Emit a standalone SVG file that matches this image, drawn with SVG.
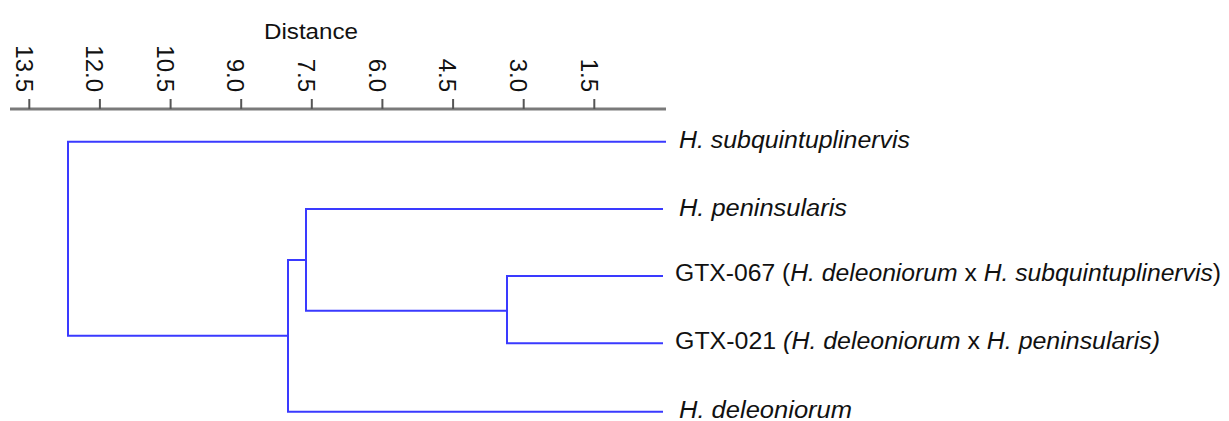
<svg xmlns="http://www.w3.org/2000/svg" width="1229" height="421" viewBox="0 0 1229 421">
  <style>
    .axis { stroke: #7a7a7a; stroke-width: 3; fill: none; }
    .tick { stroke: #555555; stroke-width: 2; }
    .tick-label { font-family: "Liberation Sans", Arial, sans-serif; font-size: 24px; fill: #111111; text-anchor: end; }
    .title { font-family: "Liberation Sans", Arial, sans-serif; font-size: 22px; fill: #111111; }
    .branch { stroke: #3a3aff; stroke-width: 2; fill: none; stroke-linecap: square; }
    .leaf { font-family: "Liberation Sans", Arial, sans-serif; font-size: 23px; fill: #111111; }
    .it { font-style: italic; }
  </style>
  <rect width="1229" height="421" fill="#ffffff"/>

  <!-- distance scale -->
  <g id="scale">
    <text class="title" x="264" y="38.5" textLength="94" lengthAdjust="spacingAndGlyphs">Distance</text>
    <line class="axis" x1="10" y1="109" x2="666" y2="109"/>
    <g class="tick">
      <line x1="29.3" y1="99" x2="29.3" y2="109"/>
      <line x1="99.9" y1="99" x2="99.9" y2="109"/>
      <line x1="170.6" y1="99" x2="170.6" y2="109"/>
      <line x1="241.2" y1="99" x2="241.2" y2="109"/>
      <line x1="311.8" y1="99" x2="311.8" y2="109"/>
      <line x1="382.4" y1="99" x2="382.4" y2="109"/>
      <line x1="453.1" y1="99" x2="453.1" y2="109"/>
      <line x1="523.7" y1="99" x2="523.7" y2="109"/>
      <line x1="594.3" y1="99" x2="594.3" y2="109"/>
    </g>
    <text class="tick-label" transform="translate(15.5,92) rotate(90)">13.5</text>
    <text class="tick-label" transform="translate(86.1,92) rotate(90)">12.0</text>
    <text class="tick-label" transform="translate(156.8,92) rotate(90)">10.5</text>
    <text class="tick-label" transform="translate(227.4,92) rotate(90)">9.0</text>
    <text class="tick-label" transform="translate(298,92) rotate(90)">7.5</text>
    <text class="tick-label" transform="translate(368.6,92) rotate(90)">6.0</text>
    <text class="tick-label" transform="translate(439.3,92) rotate(90)">4.5</text>
    <text class="tick-label" transform="translate(509.9,92) rotate(90)">3.0</text>
    <text class="tick-label" transform="translate(580.5,92) rotate(90)">1.5</text>
  </g>

  <!-- dendrogram branches -->
  <g id="connectors">
    <path class="branch" d="M665,141.7 H68 V335.7 H288"/>
    <path class="branch" d="M306,260 H288 V411.7 H662"/>
    <path class="branch" d="M662,209 H306 V310.7 H507"/>
    <path class="branch" d="M662,276 H507 V343.3 H662"/>
  </g>

  <!-- leaves -->
  <g id="leaf-subquintuplinervis">
    <text class="leaf it" x="679" y="147.5" textLength="231" lengthAdjust="spacingAndGlyphs">H. subquintuplinervis</text>
  </g>
  <g id="leaf-peninsularis">
    <text class="leaf it" x="679" y="215.5" textLength="168" lengthAdjust="spacingAndGlyphs">H. peninsularis</text>
  </g>
  <g id="leaf-gtx067">
    <text class="leaf" x="675" y="281" textLength="546" lengthAdjust="spacingAndGlyphs">GTX-067 (<tspan class="it">H. deleoniorum</tspan> x <tspan class="it">H. subquintuplinervis</tspan>)</text>
  </g>
  <g id="leaf-gtx021">
    <text class="leaf" x="675" y="348.5" textLength="485" lengthAdjust="spacingAndGlyphs">GTX-021 <tspan class="it">(H. deleoniorum</tspan> x <tspan class="it">H. peninsularis)</tspan></text>
  </g>
  <g id="leaf-deleoniorum">
    <text class="leaf it" x="679" y="417.5" textLength="173" lengthAdjust="spacingAndGlyphs">H. deleoniorum</text>
  </g>
</svg>
